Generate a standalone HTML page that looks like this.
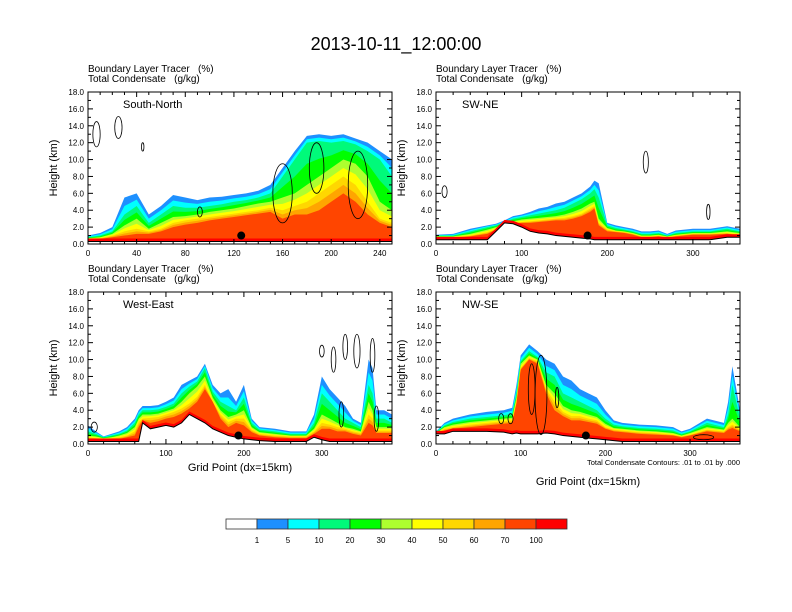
<!DOCTYPE html>
<html><head><meta charset="utf-8"><style>
body{margin:0;background:#fff}
svg{display:block;font-family:"Liberation Sans",sans-serif}
</style></head><body>
<svg id="chart" width="792" height="612" viewBox="0 0 792 612">
<text x="396" y="50" font-size="18" text-anchor="middle">2013-10-11_12:00:00</text>
<g id="panels"></g>
<g id="colorbar"></g>
</svg>
<script>
const levelLabels=["1","5","10","20","30","40","50","60","70","100"];
const levelColors=["#ffffff","#1e90ff","#00ffff","#00fa7a","#00ff00","#adff2f","#ffff00","#ffd700","#ffa500","#ff4500","#ff0000"];

const p1Gp=[0,10,20,30,40,50,60,70,80,90,100,110,120,130,140,150,160,170,180,190,200,210,220,230,240,250];
const p1Ter=[0.3,0.3,0.3,0.3,0.3,0.3,0.3,0.3,0.3,0.3,0.3,0.3,0.3,0.3,0.3,0.3,0.3,0.3,0.3,0.3,0.3,0.3,0.3,0.3,0.3,0.3];
const p1T1=[1.0,1.3,2.0,5.5,6.0,3.5,4.5,5.8,5.5,5.2,5.5,5.6,5.8,6.0,6.3,7.0,9.0,11,12.8,13,12.8,13,12.5,12,11,10];
const p1T10=[0.8,1.0,1.5,3.5,4.5,2.5,3.5,4.5,4.3,4.3,4.5,4.7,5.0,5.2,5.5,6.0,8.0,10,12,12.2,12,12.2,11.8,11,10,8];
const p1T30=[0.7,0.8,1.2,2.2,3.0,1.8,2.5,3.2,3.3,3.5,3.8,4.0,4.2,4.5,4.8,5.0,5.5,6,7,8,9,10,9.5,8,5,4];
const p1T50=[0.6,0.7,1.0,1.5,1.8,1.5,1.8,2.5,2.8,3.0,3.2,3.4,3.6,3.8,4.0,4.3,4.0,4.5,5,6,7,8,7,5,3,2.5];
const p1T70=[0.5,0.6,0.8,1.0,1.2,1.2,1.5,2.0,2.3,2.5,2.8,3.0,3.2,3.4,3.6,3.8,3.0,3.5,3.5,4,5,6,5,3.5,2.5,2];

const p2Gp=[0,20,40,60,70,80,90,100,110,120,130,140,150,160,170,180,185,190,200,210,220,230,240,250,260,270,280,300,320,340,355];
const p2Ter=[0.5,0.5,0.5,0.5,1.5,2.5,2.4,2.0,1.5,1.3,1.2,1.0,0.9,0.8,0.7,0.6,0.5,0.5,0.5,0.5,0.5,0.5,0.5,0.5,0.5,0.5,0.5,0.5,0.5,0.8,0.8];
const p2T1=[1.1,1.2,1.8,2.2,2.4,2.8,3.3,3.5,3.8,4.2,4.4,4.8,5.0,5.5,6.0,6.8,7.5,7.2,2.5,2.2,2.0,1.8,1.5,1.5,1.6,1.2,1.6,1.8,1.8,2.1,1.8];
const p2T10=[1.0,1.0,1.5,2.0,2.2,2.6,3.0,3.2,3.4,3.6,3.8,4.0,4.3,4.8,5.3,6.0,6.5,5.5,2.2,1.9,1.7,1.5,1.2,1.2,1.3,1.0,1.3,1.5,1.5,1.8,1.5];
const p2T30=[0.9,0.9,1.2,1.7,2.0,2.4,2.7,2.9,3.0,3.1,3.2,3.3,3.5,3.8,4.2,4.8,5.0,3.0,1.9,1.6,1.5,1.3,1.0,1.0,1.1,0.9,1.1,1.3,1.3,1.5,1.3];
const p2T50=[0.8,0.8,1.0,1.4,1.8,2.3,2.5,2.6,2.7,2.8,2.9,3.0,3.1,3.3,3.6,4.2,4.5,2.5,1.7,1.5,1.4,1.2,0.9,0.9,1.0,0.8,1.0,1.2,1.2,1.3,1.1];
const p2T70=[0.7,0.7,0.9,1.2,1.7,2.2,2.4,2.5,2.5,2.6,2.7,2.8,2.8,3.0,3.3,3.8,4.2,2.2,1.5,1.4,1.3,1.1,0.8,0.8,0.9,0.7,0.9,1.1,1.1,1.2,1.0];

const p3Gp=[0,10,20,30,40,50,60,65,70,80,90,100,110,120,130,140,150,160,170,180,190,200,210,220,240,260,280,290,300,310,320,330,340,350,360,365,370,380,390];
const p3Ter=[0.3,0.3,0.3,0.3,0.3,0.3,0.3,0.3,2.5,1.8,2.0,2.2,2.0,2.5,3.5,3.0,2.5,1.8,1.4,1.0,0.8,0.6,0.5,0.4,0.3,0.3,0.3,0.8,0.5,0.3,0.3,0.3,0.3,0.3,0.3,0.3,0.3,0.3,0.3];
const p3T1=[2.2,1.5,0.9,1.2,1.5,2.0,3.0,4.0,4.5,4.5,4.6,5.0,5.5,7,7.5,8,9.5,7,6,6.5,5,7,3.0,2.0,1.8,1.5,1.5,3.5,8.0,6.5,5.5,4.5,3.0,2.5,10,9,4.0,4.0,3.5];
const p3T10=[1.5,1.2,0.8,1.0,1.2,1.6,2.5,3.5,4.0,4.0,4.1,4.4,4.8,6,6.8,7.4,9,6.2,5,4.5,4.0,5.5,2.5,1.7,1.5,1.2,1.2,2.5,6.0,5.0,4.0,3.0,2.5,2.0,7,6,3.0,3.0,2.5];
const p3T30=[1.0,0.9,0.7,0.8,1.0,1.3,2.0,3.0,3.5,3.5,3.6,3.9,4.2,5.0,6.0,6.8,8.0,5.5,4.0,3.2,3.5,4.0,2.0,1.4,1.2,1.0,1.0,1.8,3.5,3.0,2.5,2.0,1.8,1.5,5,4,2,2,2];
const p3T50=[0.8,0.7,0.6,0.7,0.8,1.0,1.5,2.6,3.0,3.1,3.2,3.5,3.8,4.2,4.8,5.6,7.0,5.0,3.5,2.6,3.0,3.0,1.7,1.2,1.0,0.9,0.9,1.5,2.5,2.3,2.0,1.8,1.5,1.3,3.5,3,1.6,1.6,1.6];
const p3T70=[0.6,0.6,0.5,0.6,0.6,0.8,1.0,2.0,2.8,2.5,2.7,3.0,3.2,3.6,4.2,5.0,6.5,5.0,3.0,2.0,2.5,2.2,1.4,1.0,0.8,0.7,0.7,1.2,1.8,1.8,1.5,1.5,1.2,1.0,2.5,2.2,1.3,1.3,1.3];

const p4Gp=[0,10,20,40,60,80,90,95,100,110,120,130,140,150,160,170,180,190,200,210,220,240,260,280,290,300,320,340,345,350,359];
const p4Ter=[1.2,1.2,1.5,1.5,1.5,1.4,1.2,1.3,1.2,1.2,1.2,1.3,1.2,1.0,0.9,0.8,0.7,0.6,0.5,0.4,0.3,0.3,0.3,0.3,0.3,0.3,0.3,0.3,0.3,0.3,0.3];
const p4T1=[1.5,2.5,3.0,3.5,3.8,4.0,4.3,7,10.5,11.8,11,10,9.5,8,7.5,6.5,6,5.5,4,2.8,2.5,2.3,2.2,2.0,1.5,1.8,3.0,2.5,5,9.2,4];
const p4T10=[1.4,2.2,2.6,3.0,3.2,3.4,3.6,6,9.8,11,10.3,8.5,8.0,6.0,5.5,5.0,4.5,4.0,3.0,2.3,2.1,1.9,1.8,1.6,1.2,1.5,2.5,2.0,3.5,7,3];
const p4T30=[1.3,2.0,2.3,2.6,2.8,3.0,3.1,5.5,9.5,10.5,10,7,6.0,4.5,4.0,3.8,3.5,3.2,2.4,1.9,1.8,1.6,1.5,1.3,1.0,1.3,2.0,1.7,2.5,3,2];
const p4T50=[1.2,1.8,2.0,2.3,2.5,2.7,2.8,5.0,9.0,10.2,9.8,6.5,5,3.8,3.3,3.3,3.0,2.8,2.0,1.7,1.6,1.4,1.3,1.1,0.9,1.1,1.7,1.5,2.0,2.3,1.7];
const p4T70=[1.1,1.6,1.8,2.0,2.2,2.4,2.5,4.8,8.8,10,9.5,6.0,4,3.3,2.8,2.8,2.6,2.4,1.8,1.5,1.4,1.2,1.1,1.0,0.8,1.0,1.5,1.3,1.7,1.9,1.5];

// condensate contour blobs: [grid point center, height center, half-width (grid), half-height (km)]
const p1Cont=[[7,13,3,1.5],[25,13.8,3,1.3],[45,11.5,1,0.5],[92,3.8,2,0.6],[160,6,8,3.5],[188,9,6,3],[222,7,8,4]];
const p2Cont=[[10,6.2,3,0.7],[245,9.7,3,1.3],[318,3.8,2,0.9]];
const p3Cont=[[8,2,4,0.6],[300,11,3,0.7],[315,10,3,1.5],[330,11.5,3,1.5],[345,11,4,2],[365,10.5,3,2],[325,3.5,3,1.5],[370,3,3,1.5]];
const p4Cont=[[113,6.5,4,3],[124,5.8,7,4.7],[143,5.5,2,1.2],[77,3,3,0.6],[88,3,3,0.6],[316,0.8,12,0.3]];

const yTicks=["0.0","2.0","4.0","6.0","8.0","10.0","12.0","14.0","16.0","18.0"];
const xTicks1=[0,40,80,120,160,200,240];
const xTicksB=[0,100,200,300];
const stations=[[126,1.0],[177,1.0],[193,1.0],[177,1.0]];

const NS="http://www.w3.org/2000/svg";
function mk(tag,attrs,parent){const e=document.createElementNS(NS,tag);for(const k in attrs)e.setAttribute(k,attrs[k]);parent.appendChild(e);return e;}
const root=document.getElementById('panels');

const panels=[
 {name:"South-North",x0:88,y0:92,w:304,h:152,xmax:250,gp:p1Gp,ter:p1Ter,t:[p1T1,p1T10,p1T30,p1T50,p1T70],cont:p1Cont,xt:xTicks1,minor:10,xtitle:false},
 {name:"SW-NE",x0:436,y0:92,w:304,h:152,xmax:355,gp:p2Gp,ter:p2Ter,t:[p2T1,p2T10,p2T30,p2T50,p2T70],cont:p2Cont,xt:xTicksB,minor:20,xtitle:false},
 {name:"West-East",x0:88,y0:292,w:304,h:152,xmax:390,gp:p3Gp,ter:p3Ter,t:[p3T1,p3T10,p3T30,p3T50,p3T70],cont:p3Cont,xt:xTicksB,minor:20,xtitle:true},
 {name:"NW-SE",x0:436,y0:292,w:304,h:152,xmax:359,gp:p4Gp,ter:p4Ter,t:[p4T1,p4T10,p4T30,p4T50,p4T70],cont:p4Cont,xt:xTicksB,minor:20,xtitle:true,foot:true}
];

panels.forEach((p,pi)=>{
 const g=mk('g',{},root);
 
 
 const sx=v=>p.x0+v/p.xmax*p.w;
 const sy=v=>p.y0+p.h-v/18*p.h;
 const clip=mk('clipPath',{id:'c'+pi},g);mk('rect',{x:p.x0,y:p.y0,width:p.w,height:p.h},clip);
 const fg=mk('g',{'clip-path':'url(#c'+pi+')'},g);
 const [a1,a10,a30,a50,a70]=p.t;
 const mid=(A,B)=>A.map((v,i)=>(v+B[i])/2);
 const layers=[a1,mid(a1,a10),a10,mid(a10,a30),a30,mid(a30,a50),a50,mid(a50,a70),a70,p.ter.map(v=>v+0.35)];
 layers.forEach((arr,li)=>{
  let d='M'+sx(p.gp[0])+','+sy(0);
  p.gp.forEach((x,i)=>{d+=' L'+sx(x)+','+sy(arr[i]);});
  d+=' L'+sx(p.gp[p.gp.length-1])+','+sy(0)+'Z';
  const e=mk('path',{d:d,fill:levelColors[li+1]},fg);
  
  
 });
 let d='M'+sx(p.gp[0])+','+sy(0);
 let dl='';
 p.gp.forEach((x,i)=>{d+=' L'+sx(x)+','+sy(p.ter[i]);dl+=(i?' L':'M')+sx(x)+','+sy(p.ter[i]);});
 d+=' L'+sx(p.gp[p.gp.length-1])+','+sy(0)+'Z';
 mk('path',{d:d,fill:'#fff'},fg);
 const tl=mk('path',{d:dl,fill:'none',stroke:'#000','stroke-width':1},fg);
 
 
 p.cont.forEach(c=>{
  const el=mk('ellipse',{cx:sx(c[0]),cy:sy(c[1]),rx:Math.abs(sx(c[2])-sx(0)),ry:Math.abs(sy(0)-sy(c[3])),fill:'none',stroke:'#000','stroke-width':0.8},fg);
  
  
 });
 const st=mk('circle',{cx:sx(stations[pi][0]),cy:sy(stations[pi][1]),r:4,fill:'#000'},g);
 
 
 mk('rect',{x:p.x0,y:p.y0,width:p.w,height:p.h,fill:'none',stroke:'#000','stroke-width':1},g);
 yTicks.forEach((t,i)=>{
  const y=sy(i*2);
  mk('line',{x1:p.x0,x2:p.x0+5,y1:y,y2:y,stroke:'#000'},g);
  mk('line',{x1:p.x0+p.w,x2:p.x0+p.w-5,y1:y,y2:y,stroke:'#000'},g);
  if(i<9){const ym=sy(i*2+1);mk('line',{x1:p.x0,x2:p.x0+3,y1:ym,y2:ym,stroke:'#000'},g);mk('line',{x1:p.x0+p.w,x2:p.x0+p.w-3,y1:ym,y2:ym,stroke:'#000'},g);}
  const tx=mk('text',{x:p.x0-4,y:y+3,'font-size':8,'text-anchor':'end'},g);tx.textContent=t;
  
  
 });
 for(let v=0;v<=p.xmax;v+=p.minor){
  const x=sx(v);const major=p.xt.includes(v);const L=major?5:3;
  mk('line',{x1:x,x2:x,y1:p.y0+p.h,y2:p.y0+p.h-L,stroke:'#000'},g);
  mk('line',{x1:x,x2:x,y1:p.y0,y2:p.y0+L,stroke:'#000'},g);
 }
 p.xt.forEach(v=>{
  const tx=mk('text',{x:sx(v),y:p.y0+p.h+12,'font-size':8,'text-anchor':'middle'},g);tx.textContent=v;
  
  
 });
 const t1=mk('text',{x:p.x0,y:p.y0-20,'font-size':10},g);t1.textContent='Boundary Layer Tracer\u00a0\u00a0\u00a0(%)';
 
 
 const t2=mk('text',{x:p.x0,y:p.y0-10,'font-size':10},g);t2.textContent='Total Condensate\u00a0\u00a0\u00a0(g/kg)';
 
 
 const lb=mk('text',{x:p.x0+(pi%2?26:35),y:p.y0+16,'font-size':11},g);lb.textContent=p.name;
 
 
 const yt=mk('text',{x:0,y:0,'font-size':11,'text-anchor':'middle',transform:'translate('+(p.x0-31)+','+(p.y0+p.h/2)+') rotate(-90)'},g);yt.textContent='Height (km)';
 
 
 if(p.xtitle){
  const xt=mk('text',{x:p.x0+p.w/2,y:p.foot?p.y0+p.h+41:p.y0+p.h+27,'font-size':11,'text-anchor':'middle'},g);xt.textContent='Grid Point (dx=15km)';
  
  
 }
 if(p.foot){
  const ft=mk('text',{x:p.x0+p.w,y:p.y0+p.h+21,'font-size':7.5,'text-anchor':'end'},g);ft.textContent='Total Condensate Contours: .01 to .01 by .000';
  
  
 }
});

const cb=document.getElementById('colorbar');
const cbx=226,cbw=31,cby=519,cbh=10;
levelColors.forEach((c,i)=>{
 const r=mk('rect',{x:cbx+i*cbw,y:cby,width:cbw,height:cbh,fill:c,stroke:'#333','stroke-width':0.8},cb);
 
 
});
levelLabels.forEach((t,i)=>{
 const tx=mk('text',{x:cbx+(i+1)*cbw,y:cby+24,'font-size':8,'text-anchor':'middle'},cb);tx.textContent=t;
 
 
});
</script>
</body></html>
